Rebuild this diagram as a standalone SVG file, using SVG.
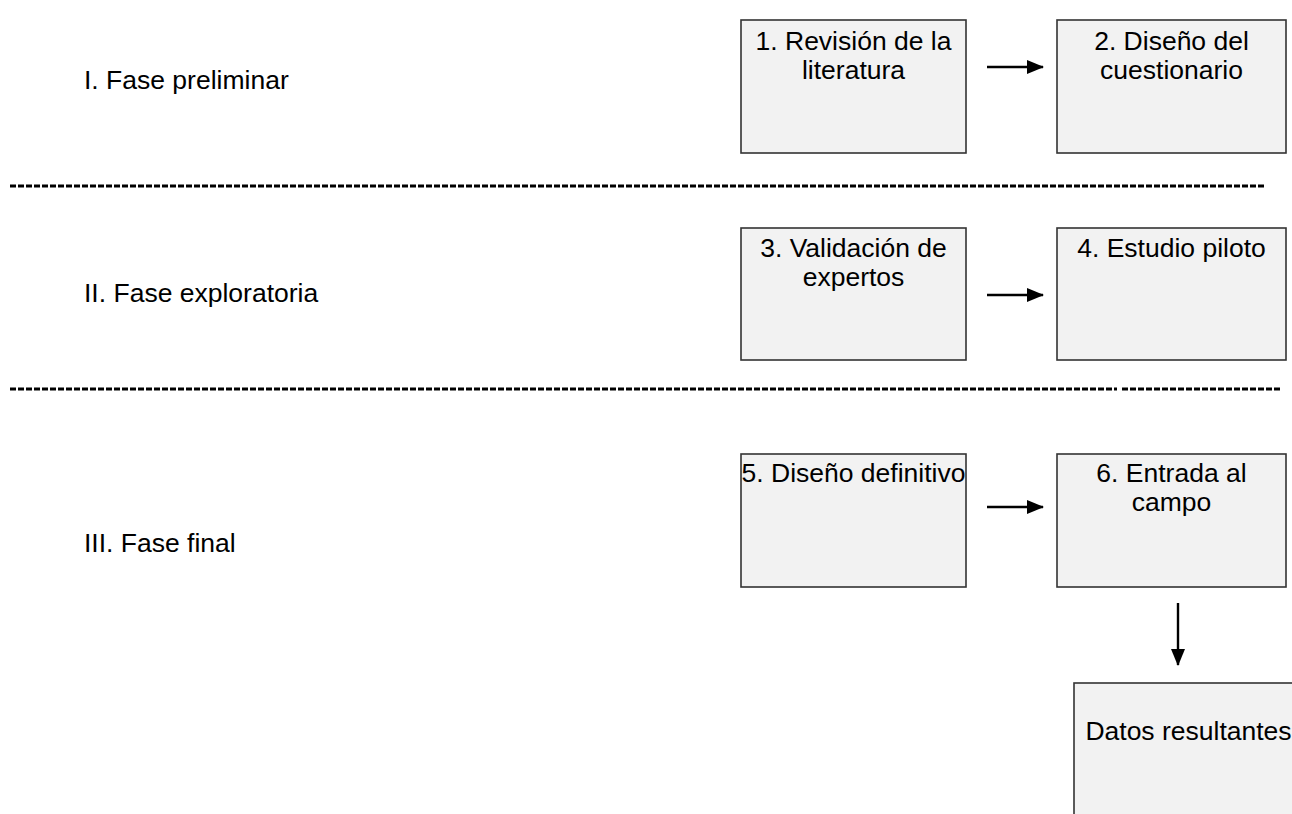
<svg xmlns="http://www.w3.org/2000/svg" width="1292" height="814" viewBox="0 0 1292 814">
<style>
text{font-family:"Liberation Sans",Arial,sans-serif;font-size:26.5px;fill:#000}
.c{text-anchor:middle}
.box{fill:#f2f2f2;stroke:#333;stroke-width:1.6}
.dash{stroke:#000;stroke-width:3;stroke-dasharray:6 2;fill:none}
.arr{stroke:#000;stroke-width:2.4;fill:none}
</style>
<defs>
<marker id="ah" markerWidth="17" markerHeight="14" refX="16" refY="7" orient="auto" markerUnits="userSpaceOnUse">
<path d="M0,0 L17,7 L0,14 Z" fill="#000"/>
</marker>
</defs>
<g id="labels">
<text x="84" y="89">I. Fase preliminar</text>
<text x="84" y="302">II. Fase exploratoria</text>
<text x="84" y="552">III. Fase final</text>
</g>
<g id="separators">
<line class="dash" x1="10" y1="186" x2="1266" y2="186"/>
<line class="dash" x1="10" y1="389" x2="1117" y2="389"/>
<line class="dash" x1="1122" y1="389" x2="1280" y2="389"/>
</g>
<g id="n1"><rect class="box" x="741" y="20" width="225" height="133"/><text class="c" x="853.5" y="50">1. Revisión de la</text><text class="c" x="853.5" y="79">literatura</text></g>
<g id="n2"><rect class="box" x="1057" y="20" width="229" height="133"/><text class="c" x="1171.5" y="50">2. Diseño del</text><text class="c" x="1171.5" y="79">cuestionario</text></g>
<g id="n3"><rect class="box" x="741" y="228" width="225" height="132"/><text class="c" x="853.5" y="257">3. Validación de</text><text class="c" x="853.5" y="286">expertos</text></g>
<g id="n4"><rect class="box" x="1057" y="228" width="229" height="132"/><text class="c" x="1171.5" y="257">4. Estudio piloto</text></g>
<g id="n5"><rect class="box" x="741" y="454" width="225" height="133"/><text class="c" x="853.5" y="482">5. Diseño definitivo</text></g>
<g id="n6"><rect class="box" x="1057" y="454" width="229" height="133"/><text class="c" x="1171.5" y="482">6. Entrada al</text><text class="c" x="1171.5" y="511">campo</text></g>
<g id="n7"><rect class="box" x="1074" y="683" width="229" height="135"/><text class="c" x="1188.5" y="740">Datos resultantes</text></g>
<g id="connectors">
<line class="arr" x1="987" y1="67" x2="1043" y2="67" marker-end="url(#ah)"/>
<line class="arr" x1="987" y1="295" x2="1043" y2="295" marker-end="url(#ah)"/>
<line class="arr" x1="987" y1="507" x2="1043" y2="507" marker-end="url(#ah)"/>
<line class="arr" x1="1178" y1="603" x2="1178" y2="665" marker-end="url(#ah)"/>
</g>
</svg>
